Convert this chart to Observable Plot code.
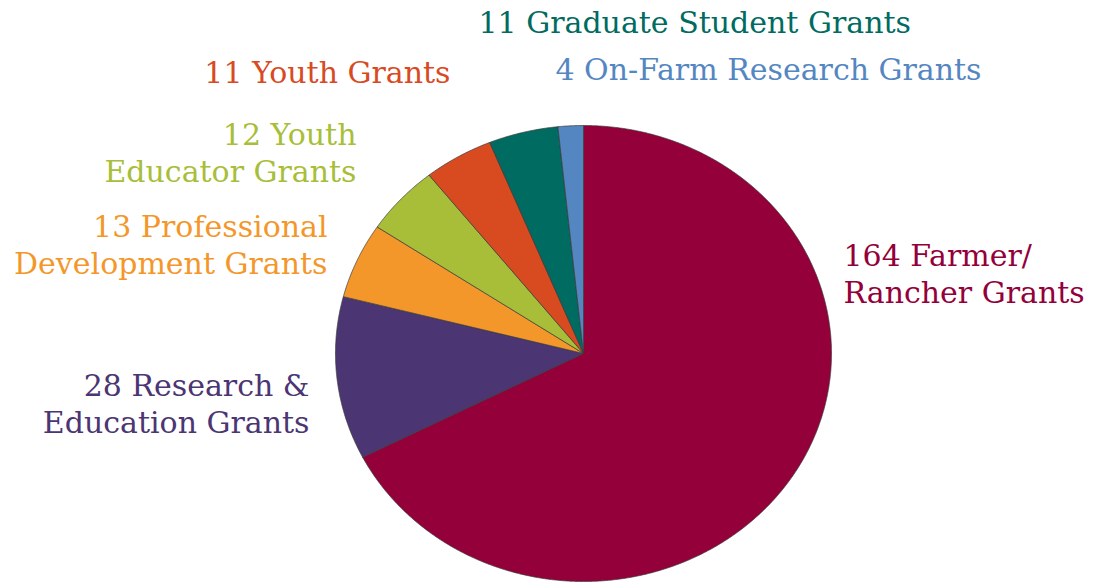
<!DOCTYPE html>
<html>
<head>
<meta charset="utf-8">
<script src="https://cdn.jsdelivr.net/npm/d3@7"></script>
<script src="https://cdn.jsdelivr.net/npm/@observablehq/plot@0.6"></script>
<style>
  html, body { margin: 0; padding: 0; background: #fff; }
  #chart svg { display: block; }
</style>
</head>
<body>
<div id="chart"></div>
<script>
// ---- data ----
const categories = [
  "Farmer/Rancher Grants",
  "Research & Education Grants",
  "Professional Development Grants",
  "Youth Educator Grants",
  "Youth Grants",
  "Graduate Student Grants",
  "On-Farm Research Grants"
];
const counts = [164, 28, 13, 12, 11, 11, 4];
const colors = ["#93003a", "#4b3573", "#f4972a", "#a8be38", "#d84a1f", "#006b60", "#5487c1"];
const labelLines = [
  ["164 Farmer/", "Rancher Grants"],
  ["28 Research &", "Education Grants"],
  ["13 Professional", "Development Grants"],
  ["12 Youth", "Educator Grants"],
  ["11 Youth Grants"],
  ["11 Graduate Student Grants"],
  ["4 On-Farm Research Grants"]
];

// ---- layout (pixels) ----
const W = 1102, H = 582;
const cx = 583, cy = 353, rx = 248, ry = 228;
const fontSize = 30, lineGap = 37;
// label anchor: [x, baseline of first line, text-anchor]
const labelPos = [
  [843, 265, "start"],
  [309, 395, "end"],
  [327, 236, "end"],
  [356, 144, "end"],
  [450, 82, "end"],
  [478, 32, "start"],
  [555, 79, "start"]
];

// ---- geometry from data ----
const pie = d3.pie().sort(null).value(d => d.count)(
  categories.map((c, i) => ({category: c, count: counts[i], color: colors[i]}))
);
const slicePts = [];
for (const a of pie) {
  const name = a.data.category;
  slicePts.push({name, x: 0, y: 0});
  const n = Math.max(2, Math.ceil((a.endAngle - a.startAngle) / 0.005));
  for (let k = 0; k <= n; k++) {
    const t = a.startAngle + (a.endAngle - a.startAngle) * k / n;
    slicePts.push({name, x: Math.sin(t), y: Math.cos(t)});
  }
  slicePts.push({name, x: 0, y: 0});
}
const colorOf = Object.fromEntries(categories.map((c, i) => [c, colors[i]]));

const texts = [];
labelLines.forEach((lines, i) => {
  const [px, py, anchor] = labelPos[i];
  lines.forEach((line, j) => {
    texts.push({
      text: line,
      x: (px - cx) / rx,
      y: (cy - (py + j * lineGap)) / ry,
      anchor,
      color: colors[i]
    });
  });
});

const chart = Plot.plot({
  width: W,
  height: H,
  margin: 0,
  x: {domain: [-cx / rx, (W - cx) / rx], axis: null},
  y: {domain: [-(H - cy) / ry, cy / ry], axis: null},
  style: {fontFamily: "'DejaVu Serif', serif", background: "#fff"},
  marks: [
    Plot.line(slicePts, {
      x: "x", y: "y", z: "name",
      fill: d => colorOf[d.name],
      stroke: "#3a3a3a", strokeWidth: 0.7, strokeLinejoin: "round"
    }),
    Plot.text(texts.filter(d => d.anchor === "start"), {
      x: "x", y: "y", text: "text", fill: "color",
      textAnchor: "start", lineAnchor: "bottom", fontSize
    }),
    Plot.text(texts.filter(d => d.anchor === "end"), {
      x: "x", y: "y", text: "text", fill: "color",
      textAnchor: "end", lineAnchor: "bottom", fontSize
    })
  ]
});
document.getElementById("chart").append(chart);
</script>
</body>
</html>
